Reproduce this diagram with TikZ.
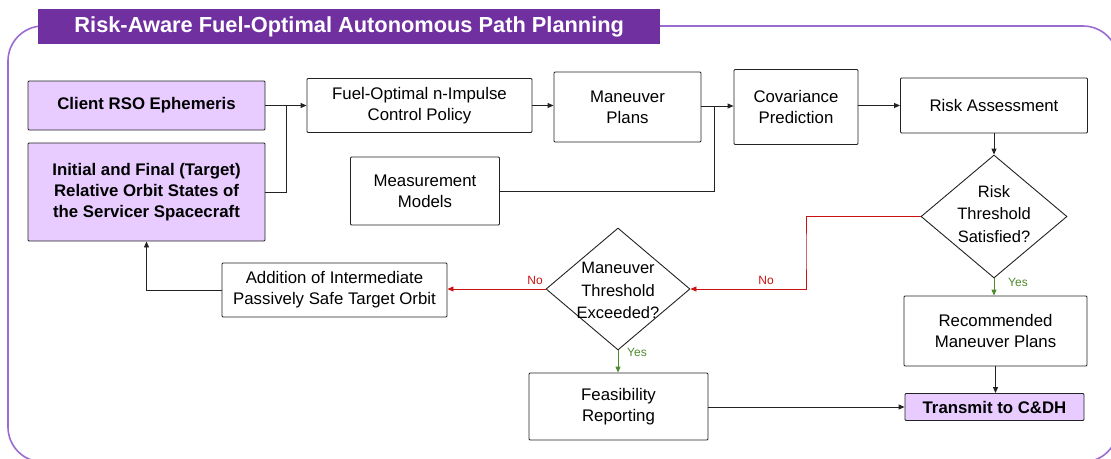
\documentclass[tikz,border=0pt]{standalone}
\usepackage{fontspec}
\setmainfont{Liberation Sans}
\usetikzlibrary{arrows.meta,shapes.geometric}
\definecolor{titlepurple}{HTML}{7030A0}
\definecolor{framepurple}{HTML}{9A6BD0}
\definecolor{lavender}{HTML}{E8CCFF}
\definecolor{noRed}{HTML}{CC1111}
\definecolor{yesGreen}{HTML}{4E8A2E}
\definecolor{edge}{HTML}{222222}
\tikzset{
  wh/.style 2 args={minimum width=#1, minimum height=#2},
  box/.style={draw=edge, line width=0.9pt, rounded corners=1pt, fill=white,
    align=center, inner sep=0pt, font=\fontsize{16.8}{21}\selectfont},
  keybox/.style={box, fill=lavender, font=\fontsize{16.8}{21}\selectfont\bfseries},
  decision/.style={draw=edge, line width=0.9pt, shape=diamond, inner sep=0pt,
    minimum width=146, minimum height=123},
  dtext/.style={align=center, inner sep=0pt, font=\fontsize{16.5}{22.5}\selectfont},
  tip/.style={-{Triangle[length=6pt,width=5pt]}},
  link/.style={draw=edge, line width=0.9pt},
  flow/.style={link, tip},
  noflow/.style={draw=noRed, line width=0.9pt, tip},
  yesflow/.style={draw=yesGreen, line width=0.9pt, tip},
  nolabel/.style={text=noRed, inner sep=0pt, font=\fontsize{12}{14}\selectfont},
  yeslabel/.style={text=yesGreen, inner sep=0pt, font=\fontsize{12}{14}\selectfont},
}
\begin{document}
\begin{tikzpicture}[x=1pt, y=-1pt]
  \clip (0,0) rectangle (1111,458);

  % outer rounded frame and title banner
  \draw[framepurple, line width=1.6pt, rounded corners=35pt] (8,26) rectangle (1118,462);
  \node[fill=titlepurple, anchor=north west, wh={622}{35}, inner sep=0pt,
        text=white, font=\fontsize{21.8}{24}\selectfont\bfseries]
        (title) at (38,9) {Risk-Aware Fuel-Optimal Autonomous Path Planning};

  % inputs
  \node[keybox, wh={237}{49}] (client) at (146.5,105.5) {Client RSO Ephemeris};
  \node[keybox, wh={237}{98}] (init) at (146.5,192)
       {Initial and Final (Target)\\Relative Orbit States of\\the Servicer Spacecraft};

  % planning chain
  \node[box, wh={225}{54}] (fuel) at (419.5,105.5) {Fuel-Optimal n-Impulse\\Control Policy};
  \node[box, wh={147}{70}] (mplans) at (627.5,107) {Maneuver\\Plans};
  \node[box, wh={124}{75}] (cov) at (796,107) {Covariance\\Prediction};
  \node[box, wh={187}{55}] (risk) at (994,105.5) {Risk Assessment};
  \node[box, wh={149}{68}] (meas) at (425,191) {Measurement\\Models};

  % decisions
  \node[decision] (rdia) at (994,216.5) {};
  \node[dtext] (rdiatext) at (994,214) {Risk\\Threshold\\Satisfied?};
  \node[decision, minimum width=144, minimum height=122] (mdia) at (618,289) {};
  \node[dtext] (mdiatext) at (618,290.5) {Maneuver\\Threshold\\Exceeded?};

  % outcomes
  \node[box, wh={225}{54}] (add) at (334.5,290) {Addition of Intermediate\\Passively Safe Target Orbit};
  \node[box, wh={183}{70}] (rec) at (995.5,331) {Recommended\\Maneuver Plans};
  \node[box, wh={179}{67}] (feas) at (618.5,406.5) {Feasibility\\Reporting};
  \node[keybox, wh={179}{27}] (tx) at (994.5,407) {Transmit to C\&DH};

  % junction points
  \coordinate (jA) at (286,105.5);
  \coordinate (jB) at (714,106);
  \coordinate (jC) at (806,250);

  % connectors
  \draw[flow] (client.east) -- (fuel.west);
  \draw[link] (init.east) -| (jA);
  \draw[flow] (fuel.east) -- (fuel.east -| mplans.west);
  \draw[flow] (mplans.east |- jB) -- (cov.west |- jB);
  \draw[link] (meas.east) -| (jB);
  \draw[flow] (cov.east |- risk.west) -- (risk.west);
  \draw[flow] (risk.south) -- (rdia.north);
  \draw[noflow] (rdia.west) -| (jC) |- (mdia.east);
  \draw[noflow] (mdia.west) -- (add.east |- mdia.west);
  \draw[flow] (add.west) -| (init.south);
  \draw[yesflow] (mdia.south) -- (mdia.south |- feas.north);
  \draw[yesflow] (rdia.south) -- (rdia.south |- rec.north);
  \draw[flow] (rec.south) -- (rec.south |- tx.north);
  \draw[flow] (feas.east |- tx.west) -- (tx.west);

  % branch labels
  \node[nolabel] (noR) at (766,280) {No};
  \node[nolabel] (noM) at (535,280) {No};
  \node[yeslabel] (yesM) at (637,352) {Yes};
  \node[yeslabel] (yesR) at (1018,282.5) {Yes};
\end{tikzpicture}
\end{document}
